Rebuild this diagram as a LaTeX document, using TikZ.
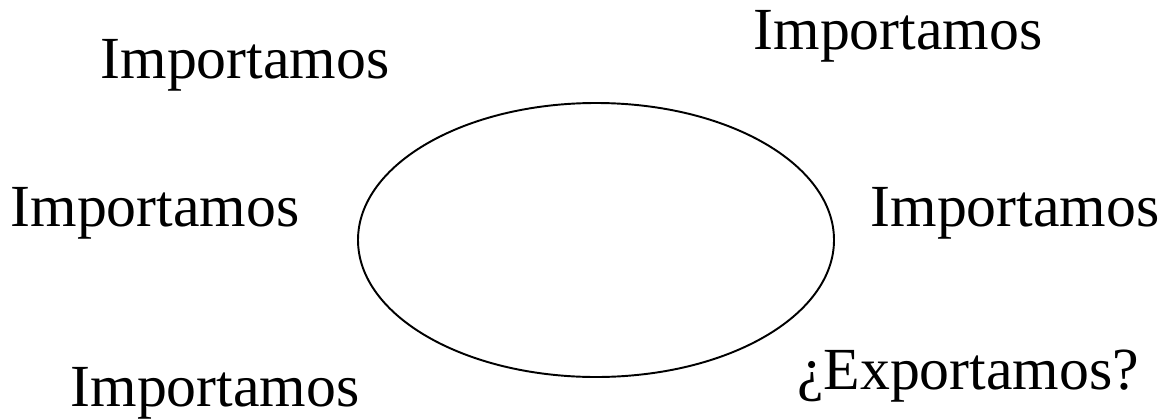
\documentclass[tikz,border=0pt]{standalone}
\usepackage{fontspec}
\setmainfont{Liberation Serif}
\usetikzlibrary{shapes.geometric, positioning}

\begin{document}
\begin{tikzpicture}[
  word/.style={font=\fontsize{34}{40}\selectfont, inner sep=0pt},
  pais/.style={ellipse, draw=black, line width=1.1pt, minimum width=9.52cm, minimum height=5.48cm}
]
\useasboundingbox (0,0) rectangle (23.3,8.36);

% Country
\node (pais) [pais] at (11.92,3.56) {};

% Trade labels
\node (imptl) [word] at (4.9,7.06) {Importamos};
\node (imptr) [word] at (17.96,7.64) {Importamos};
\node (impl) [word] at (3.1,4.1) {Importamos};
\node (impr) [word] at (20.3,4.1) {Importamos};
\node (impbl) [word] at (4.3,0.5) {Importamos};
\node (expbr) [word] at (19.36,0.84) {¿Exportamos?};
\end{tikzpicture}
\end{document}
